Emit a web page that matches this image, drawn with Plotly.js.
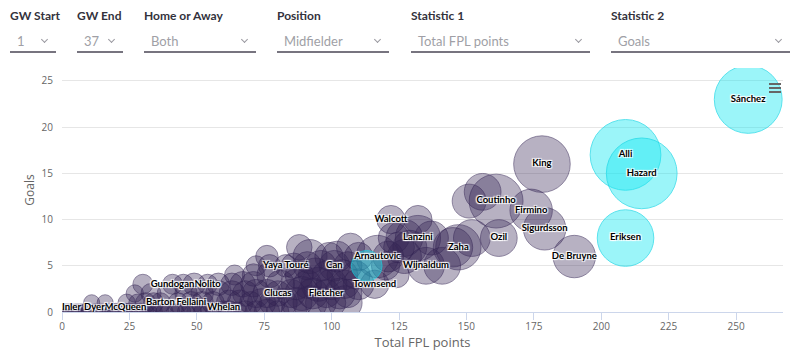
<!DOCTYPE html>
<html>
<head>
<meta charset="utf-8">
<script src="https://cdn.plot.ly/plotly-3.0.1.min.js"></script>
<style>
  html, body { margin: 0; padding: 0; background: #fff; }
  body { width: 800px; height: 353px; overflow: hidden; position: relative; font-family: Lato, "Noto Sans", sans-serif; }
  #chart { position: absolute; left: 0; top: 0; width: 800px; height: 353px; }
  .ctl { position: absolute; top: 0; height: 56px; z-index: 5; }
  .ctl .lab { position: absolute; left: 0; top: 8px; font-size: 12px; font-weight: 700; color: #33323c; white-space: nowrap; }
  .ctl .val { position: absolute; left: 7px; top: 33px; font-size: 13px; color: #a09fa6; white-space: nowrap; }
  .ctl .chev { position: absolute; right: 9px; top: 37px; width: 4px; height: 4px; border-right: 1px solid #9a99a0; border-bottom: 1px solid #9a99a0; transform: rotate(45deg); }
  .ctl .line { position: absolute; left: 0; right: 0; top: 51px; height: 2px; background: #77747f; }
</style>
</head>
<body>
<div id="chart"></div>
<script>
// ---- Filter controls shown above the chart ----
const controlLabels = ["GW Start", "GW End", "Home or Away", "Position", "Statistic 1", "Statistic 2"];
const controlValues = ["1", "37", "Both", "Midfielder", "Total FPL points", "Goals"];

// ---- Highlighted players (cyan) ----
const hiNames  = ["Sánchez", "Alli", "Hazard", "Eriksen", ""];
const hiPoints = [254.5, 209, 215, 209, 113];
const hiGoals  = [23, 17, 15, 8, 5];
const hiSize   = [92, 100, 100, 64, 19];

// ---- Other midfielders (purple) ----
const names = [
  "King","Coutinho","Firmino","Sigurdsson","De Bruyne","Ozil","Zaha","Lanzini","Wijnaldum","Walcott",
  "Arnautovic","Townsend","Can","Fletcher","Yaya Touré","Clucas","Whelan","Fellaini","Barton","Nolito",
  "Gundogan","McQueen","Dyer","Inler",
  "","",
  "",
  "","","","",
  "","","","","",
  "","","","","","","",
  "","","","","","","","",
  "","","","","","","","","",
  "","","","","","","","","","","","","","",
  "","","","","","","","","","","","","","","",
  "","","","","","","","","","","","","","","","","","","","",
  "","","","","","","","","","","","","","","","","","","","","","","","","","","","","","","","","","","","","","","","","",""
];
const points = [
  178,161,174,179,190,162,147,132,135,122,
  117,116,101,98,83,80,60,48,36.5,54,
  41,23.5,12,3.5,
  156,151,
  132,
  123,127,137,152,
  88,107,125,129,145,
  76,92,99,102,110,121,127,
  72,77,86,91,96,106,120,141,
  64,71,77,88,94,98,104,109,124,
  30,45,49,58,63,67,71,81,87,91,95,100,105,110,
  27,33,39,46,52,58,63,68,72,76,85,89,93,103,106,
  11,16,24,28,31,34,43,52,56,62,66,70,74,78,82,87,92,96,100,105,
  1,2,3,5,6,7,8,9,10,13,14,15,17,18,19,20,21,23,24,25,26,27,29,31,32,34,36,38,40,42,44,46,48,50,52,55,57,62,65,68,72,76,80,86
];
const goals = [
  16,12,11,9,6,8,7,8,5,10,
  6,3,5,2,5,2,0,1,1,3,
  3,0,0,0,
  13,12,
  10,
  8,8,8,8,
  7,7,7,7,7,
  6,6,6,6,6,6,6,
  5,5,5,5,5,5,5,5,
  4,4,4,4,4,4,4,4,4,
  3,3,3,3,3,3,3,3,3,3,3,3,3,3,
  2,2,2,2,2,2,2,2,2,2,2,2,2,2,2,
  1,1,1,1,1,1,1,1,1,1,1,1,1,1,1,1,1,1,1,1,
  0,0,0,0,0,0,0,0,0,0,0,0,0,0,0,0,0,0,0,0,0,0,0,0,0,0,0,0,0,0,0,0,0,0,0,0,0,0,0,0,0,0,0,0
];
const sizeValue = [
  64,58,36,36,36,27,41,41,27,16,
  36,16,19,16,10,13,10,10,8,8,
  8,6,4,4,
  27,23,
  16,
  19,27,23,27,
  13,16,19,23,31,
  10,23,16,19,16,19,23,
  8,10,13,16,19,16,16,27,
  8,10,13,16,23,16,19,16,13,
  8,8,10,10,10,13,13,16,19,16,23,19,16,19,
  6,8,8,10,10,13,13,13,16,16,16,23,19,19,16,
  4,4,6,6,8,8,8,10,10,13,13,10,16,13,16,19,23,19,16,23,
  2.6,4,2.6,4,2.6,4,4,2.6,4,4,2.6,4,4,6,4,6,4,6,4,6,4,6,6,4,6,6,8,6,8,6,8,6,8,8,6,8,8,10,8,10,10,13,10,13
];

// ---- build controls ----
const ctlX = [10, 77, 144, 277, 411, 611];
const ctlW = [46, 46, 112, 112, 179, 179];
controlLabels.forEach((lab, i) => {
  const d = document.createElement('div');
  d.className = 'ctl';
  d.style.left = ctlX[i] + 'px';
  d.style.width = ctlW[i] + 'px';
  d.innerHTML = '<div class="lab"></div><div class="val"></div><div class="chev"></div><div class="line"></div>';
  d.querySelector('.lab').textContent = lab;
  d.querySelector('.val').textContent = controlValues[i];
  document.body.appendChild(d);
});

const sizeref = 100 / (50 * 50);

const purple = {
  type: 'scatter', mode: 'markers',
  x: points, y: goals,
  marker: {
    size: sizeValue, sizemode: 'area', sizeref: sizeref, sizemin: 8,
    color: 'rgba(52,36,84,0.5)',
    line: { color: 'rgba(52,36,84,0.75)', width: 1 }
  },
  hoverinfo: 'skip'
};
const cyan = {
  type: 'scatter', mode: 'markers',
  x: hiPoints, y: hiGoals,
  marker: {
    size: hiSize, sizemode: 'area', sizeref: sizeref, sizemin: 8,
    color: 'rgba(20,232,242,0.6)',
    line: { color: 'rgba(20,215,230,1)', width: 1 }
  },
  hoverinfo: 'skip'
};

// label trace: all named points
const lx = [], ly = [], lt = [], lp = [];
names.forEach((n, i) => { if (n) { lx.push(points[i]); ly.push(goals[i]); lt.push(n); lp.push(goals[i] === 0 ? 'top center' : 'middle center'); } });
hiNames.forEach((n, i) => { if (n) { lx.push(hiPoints[i]); ly.push(hiGoals[i]); lt.push(n); lp.push('middle center'); } });
const labels = {
  type: 'scatter', mode: 'text',
  x: lx, y: ly, text: lt, textposition: lp,
  textfont: {
    family: 'Lato, sans-serif', size: 9.5, weight: 700, color: '#000',
    shadow: '1px 1px 1px #fff, -1px -1px 1px #fff, 1px -1px 1px #fff, -1px 1px 1px #fff'
  },
  cliponaxis: false,
  hoverinfo: 'skip'
};

const menuLine = (py) => ({
  type: 'line', xref: 'paper', yref: 'paper',
  x0: (769 - 62) / 721, x1: (781 - 62) / 721,
  y0: (312 - py) / 244, y1: (312 - py) / 244,
  line: { color: '#666', width: 2 }
});

const layout = {
  width: 800, height: 353,
  margin: { l: 62, r: 17, t: 68, b: 41, pad: 0 },
  paper_bgcolor: '#fff', plot_bgcolor: '#fff',
  showlegend: false,
  hovermode: false,
  font: { family: 'Open Sans, sans-serif', color: '#666' },
  xaxis: {
    range: [0, 267.4], tickmode: 'linear', tick0: 0, dtick: 25,
    showgrid: false, zeroline: false,
    showline: true, linecolor: '#ccd6eb', linewidth: 1,
    ticks: 'outside', ticklen: 7, tickcolor: '#ccd6eb', tickwidth: 1,
    ticklabelstandoff: -2,
    tickfont: { size: 10, color: '#666' },
    title: { text: 'Total FPL points', font: { size: 13, color: '#666' }, standoff: 4 },
    automargin: false, fixedrange: true
  },
  yaxis: {
    range: [0, 26.4], tickmode: 'linear', tick0: 0, dtick: 5,
    showgrid: true, gridcolor: '#e6e6e6', gridwidth: 1,
    zeroline: false, showline: false, ticks: '',
    ticklabelstandoff: 8,
    tickfont: { size: 10, color: '#666' },
    title: { text: 'Goals', font: { size: 12, color: '#666' }, standoff: 4 },
    automargin: false, fixedrange: true
  },
  shapes: [menuLine(84), menuLine(88), menuLine(92)]
};

Plotly.newPlot('chart', [purple, cyan, labels], layout, { displayModeBar: false, staticPlot: true });
</script>
</body>
</html>
